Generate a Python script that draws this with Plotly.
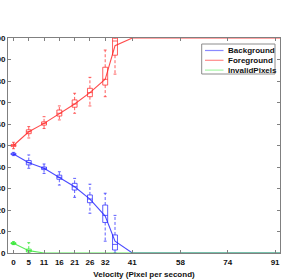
import plotly.graph_objects as go

# ---- data ----
line_vel = [0, 5.3, 10.6, 15.9, 21.2, 26.5, 31.8, 35.2, 41.2, 92.4]
fg_mean = [50, 56.4, 60.3, 65, 69.3, 74.6, 80.8, 96.4, 100, 100]
bg_mean = [46, 42, 39.4, 35.2, 30.8, 25.1, 17.2, 5.5, 0, 0]
inv_mean = [4.5, 1.1, 0, 0, 0, 0, 0, 0, 0, 0]

box_vel = [0, 5.3, 10.6, 15.9, 21.2, 26.5, 31.8, 35.2]
fg_low = [48.5, 53.5, 57.9, 61.9, 65, 68.4, 72.7, 83.2]
fg_q1 = [49.5, 55.5, 59.5, 63.7, 67.8, 72.7, 78.1, 92]
fg_med = [50, 56.4, 60.3, 65, 69.3, 74.6, 80.8, 98.6]
fg_q3 = [50.5, 57.3, 61, 66.5, 71.2, 76.6, 86.4, 100]
fg_up = [51.5, 58.8, 63.4, 68.4, 74.3, 81.7, 94.4, 100]

bg_low = [45.3, 39.4, 37, 31.6, 25.9, 18.5, 5.5, 0]
bg_q1 = [45.7, 41, 38.8, 34.3, 29.3, 23.4, 14.2, 1.4]
bg_med = [46, 42, 39.4, 35.2, 30.8, 25.1, 17.5, 4]
bg_q3 = [46.4, 43, 40, 36.2, 32.4, 27, 22.3, 8.4]
bg_up = [46.8, 45.6, 41.4, 37.8, 34.7, 32, 27.8, 17.5]

inv_low = [3.9, 0, 0, 0, 0, 0, 0, 0]
inv_q1 = [4.2, 0.5, 0, 0, 0, 0, 0, 0]
inv_med = [4.5, 1.1, 0, 0, 0, 0, 0, 0]
inv_q3 = [4.8, 1.8, 0, 0, 0, 0, 0, 0]
inv_up = [5.3, 4.8, 0, 0, 0, 0, 0, 0]

tick_vals = [0, 5.3, 10.6, 15.9, 21.2, 26.5, 31.8, 41.2, 57.9, 74.3, 90.7]
tick_text = ["0", "5", "11", "16", "21", "26", "32", "41", "58", "74", "91"]

series_names = ["Background", "Foreground", "InvalidPixels"]

# ---- style ----
HW = 0.85   # box half width (data units)
CW = 0.5    # cap half width
FONT = "Liberation Sans, Arial, sans-serif"
LINE_COLORS = ["rgba(30,30,255,0.8)", "rgba(255,30,30,0.8)", "rgba(60,230,60,0.85)"]
LEGEND_COLORS = ["rgba(60,60,255,0.6)", "rgba(255,60,60,0.6)", "rgba(80,240,80,0.5)"]

fig = go.Figure()


def add_boxes(low, q1, med, q3, up, color):
    bx, by, mx, my, wx, wy, cx, cy = [], [], [], [], [], [], [], []
    for x, lo, a, m, b, hi in zip(box_vel, low, q1, med, q3, up):
        if hi - lo <= 0:
            continue
        bx += [x - HW, x + HW, x + HW, x - HW, x - HW, None]
        by += [a, a, b, b, a, None]
        mx += [x - HW, x + HW, None]
        my += [m, m, None]
        wx += [x, x, None, x, x, None]
        wy += [b, hi, None, a, lo, None]
        cx += [x - CW, x + CW, None, x - CW, x + CW, None]
        cy += [hi, hi, None, lo, lo, None]
    common = dict(mode="lines", showlegend=False, hoverinfo="skip", cliponaxis=False)
    fig.add_trace(go.Scatter(x=wx, y=wy, line=dict(color=color, width=1, dash="3px,2px"), **common))
    fig.add_trace(go.Scatter(x=cx, y=cy, line=dict(color=color, width=1), **common))
    fig.add_trace(go.Scatter(x=bx, y=by, line=dict(color=color, width=1), **common))
    fig.add_trace(go.Scatter(x=mx, y=my, line=dict(color=color, width=1), **common))


add_boxes(bg_low, bg_q1, bg_med, bg_q3, bg_up, "rgba(40,40,255,0.75)")
add_boxes(fg_low, fg_q1, fg_med, fg_q3, fg_up, "rgba(255,40,40,0.75)")
add_boxes(inv_low, inv_q1, inv_med, inv_q3, inv_up, "rgba(40,230,40,0.8)")

for name, ys, col in zip(series_names, [bg_mean, fg_mean, inv_mean], LINE_COLORS):
    fig.add_trace(go.Scatter(x=line_vel, y=ys, mode="lines", name=name, showlegend=False,
                             line=dict(color=col, width=1.1), cliponaxis=False))

# compact legend drawn in paper coordinates (MATLAB-style)
PW, PH = 272.0, 215.0
lx0, lx1 = (201.7 - 8) / PW, (275 - 8) / PW
ly0, ly1 = (253 - 44) / PH, (253 - 74) / PH
shapes = [dict(type="rect", xref="paper", yref="paper", x0=lx0, x1=lx1, y0=ly1, y1=ly0,
               line=dict(color="#8c8c8c", width=1), fillcolor="white", layer="above")]
annotations = []
for i, (name, col) in enumerate(zip(series_names, LEGEND_COLORS)):
    yy = (253 - (50.5 + 9.8 * i)) / PH
    shapes.append(dict(type="line", xref="paper", yref="paper",
                       x0=(205 - 8) / PW, x1=(223.5 - 8) / PW, y0=yy, y1=yy,
                       line=dict(color=col, width=1.2), layer="above"))
    annotations.append(dict(xref="paper", yref="paper", x=(225.5 - 8) / PW, y=yy,
                            xanchor="left", yanchor="middle", text=name, showarrow=False,
                            font=dict(family=FONT, size=8, color="#111", weight="bold")))

axis_common = dict(showline=True, linecolor="#808080", linewidth=1, mirror="ticks",
                   ticks="inside", ticklen=3, tickcolor="#808080", showgrid=False,
                   zeroline=False, automargin=False,
                   tickfont=dict(family=FONT, size=8, color="#111", weight="bold"))

fig.update_layout(
    width=299, height=280,
    margin=dict(l=8, r=19, t=38, b=27),
    paper_bgcolor="white", plot_bgcolor="white",
    xaxis=dict(range=[-1.9, 92.4], tickvals=tick_vals, ticktext=tick_text,
               ticklabelstandoff=1,
               title=dict(text="Velocity (Pixel per second)", standoff=5,
                          font=dict(family=FONT, size=8, color="#111", weight="bold")),
               **axis_common),
    yaxis=dict(range=[0, 100], dtick=10, **axis_common),
    shapes=shapes, annotations=annotations,
    showlegend=False,
)

fig.write_html("out.html", config={"displayModeBar": False},
               post_script="document.body.style.margin='0';")
